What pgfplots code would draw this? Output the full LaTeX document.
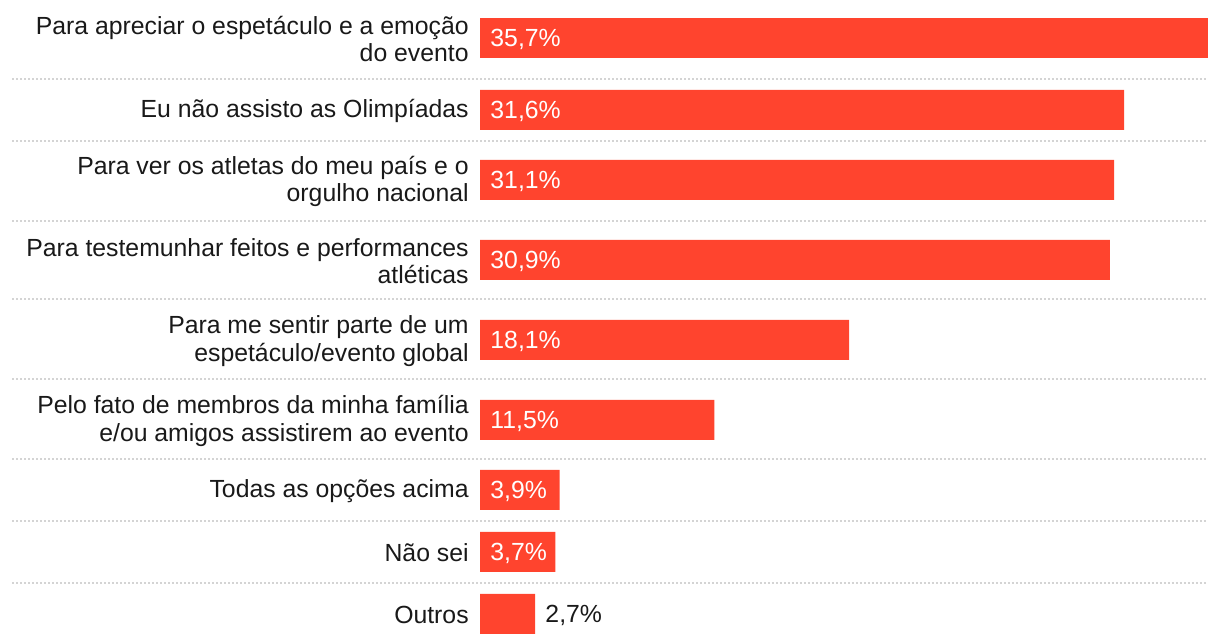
\documentclass[border=0pt]{standalone}
\usepackage{fontspec}
\setmainfont{Liberation Sans}
\usepackage{pgfplots}
\pgfplotsset{compat=1.18}

\definecolor{barred}{RGB}{255,68,46}
\definecolor{sepgray}{RGB}{212,212,212}
\definecolor{textdark}{RGB}{25,25,25}

% 1 px of the reference = 0.5pt
\begin{document}
\begin{tikzpicture}
\begin{axis}[
  scale only axis,
  width=610pt, height=322pt,
  xmin=-23.54, xmax=36.29,
  ymin=0, ymax=644,
  y dir=reverse,
  clip=false,
  axis line style={draw=none},
  major tick length=0pt,
  xtick=\empty,
  ytick={38,110,180,260,340,420,490,552,614},
  yticklabels={
    {Para apreciar o espetáculo e a emoção\\do evento},
    {Eu não assisto as Olimpíadas},
    {Para ver os atletas do meu país e o\\orgulho nacional},
    {Para testemunhar feitos e performances\\atléticas},
    {Para me sentir parte de um\\espetáculo/evento global},
    {Pelo fato de membros da minha família\\e/ou amigos assistirem ao evento},
    {Todas as opções acima},
    {Não sei},
    {Outros}
  },
  yticklabel style={anchor=east, align=right, inner sep=0pt, xshift=234.5pt,
    yshift=-0.6pt, text=textdark, font=\fontsize{12.4}{13.7}\selectfont},
]
% dotted row separators
\pgfplotsinvokeforeach{79,141,221,299,379,459,521,583}{
  \draw[sepgray, line width=1pt, dash pattern=on 1pt off 1pt]
    (axis cs:-22.95,#1) -- (axis cs:35.7,#1);
}
\addplot[xbar, fill=barred, draw=none, bar width=40]
coordinates {
(35.7,38) (31.6,110) (31.1,180) (30.9,260) (18.1,340)
(11.5,420) (3.9,490) (3.7,552) (2.7,614)
};
% value labels inside the bars
\addplot[draw=none, mark=none, nodes near coords, point meta=explicit symbolic,
  nodes near coords style={anchor=west, inner sep=0pt, xshift=5pt, yshift=-0.6pt,
    text=white, font=\fontsize{12.4}{13.7}\selectfont}]
coordinates {
(0,38) [{35,7\%}]
(0,110) [{31,6\%}]
(0,180) [{31,1\%}]
(0,260) [{30,9\%}]
(0,340) [{18,1\%}]
(0,420) [{11,5\%}]
(0,490) [{3,9\%}]
(0,552) [{3,7\%}]
};
% value label outside the short bar
\addplot[draw=none, mark=none, nodes near coords, point meta=explicit symbolic,
  nodes near coords style={anchor=west, inner sep=0pt, xshift=5pt, yshift=-0.6pt,
    text=textdark, font=\fontsize{12.4}{13.7}\selectfont}]
coordinates {
(2.7,614) [{2,7\%}]
};
\end{axis}
\end{tikzpicture}
\end{document}
